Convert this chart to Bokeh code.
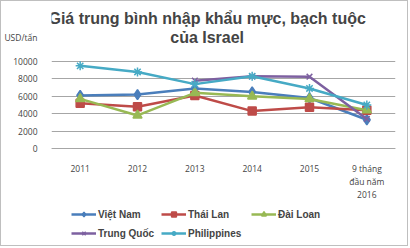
from bokeh.plotting import figure
from bokeh.models import Range1d, FixedTicker, Legend, LegendItem, Label
from bokeh.embed import file_html
from bokeh.resources import INLINE

years = ["2011", "2012", "2013", "2014", "2015", "9 tháng\nđầu năm\n2016"]
y_ticks = [0, 2000, 4000, 6000, 8000, 10000]
viet_nam = [6100, 6200, 6900, 6500, 5800, 3300]
thai_lan = [5200, 4800, 6100, 4300, 4750, 4400]
dai_loan = [5700, 3800, 6400, 6000, 5700, 4400]
trung_quoc = [None, None, 7800, 8300, 8250, 3400]
philippines = [9500, 8800, 7400, 8300, 6900, 5000]

title_1 = "Giá trung bình nhập khẩu mực, bạch tuộc"
title_2 = "của Israel"
unit = "USD/tấn"

series = [
    ("Việt Nam", viet_nam, "#4A7EBB", "diamond", 10),
    ("Thái Lan", thai_lan, "#BE4B48", "square", 8),
    ("Đài Loan", dai_loan, "#98B954", "triangle", 9),
    ("Trung Quốc", trung_quoc, "#7D60A0", "x", 8),
    ("Philippines", philippines, "#46AAC5", "asterisk", 9),
]

# layout (canvas pixels)
W, H = 408, 246
FRAME_LEFT, FRAME_RIGHT = 47, 394
FRAME_TOP, FRAME_BOTTOM = 2, 244
ZERO_PX, GRID_TOP_PX = 147, 60
per_px = y_ticks[-1] / (ZERO_PX - GRID_TOP_PX)
y_top = (ZERO_PX - FRAME_TOP) * per_px
y_bottom = -(FRAME_BOTTOM - ZERO_PX) * per_px

def data_y(px):
    return (ZERO_PX - px) * per_px

def data_x(px):
    return -0.5 + 6 * (px - FRAME_LEFT) / (FRAME_RIGHT - FRAME_LEFT)

p = figure(width=W, height=H, output_backend="svg", toolbar_location=None,
           x_range=Range1d(-0.5, 5.5), y_range=Range1d(y_bottom, y_top),
           min_border_left=FRAME_LEFT, min_border_right=W - FRAME_RIGHT,
           min_border_top=FRAME_TOP, min_border_bottom=H - FRAME_BOTTOM)
p.styles = {"border": "1px solid #BFBFBF"}
p.outline_line_color = None

xs = list(range(len(years)))
items = {}
for name, vals, color, marker, size in series:
    px = [x for x, v in zip(xs, vals) if v is not None]
    py = [v for v in vals if v is not None]
    r1 = p.line(px, py, line_color=color, line_width=2.5)
    r2 = p.scatter(px, py, marker=marker, size=size, fill_color=color,
                   line_color=color, line_width=1.5)
    items[name] = LegendItem(label=name, renderers=[r1, r2])

p.xaxis.fixed_location = 0
p.xaxis.ticker = FixedTicker(ticks=xs)
p.xaxis.major_label_overrides = {i: y for i, y in enumerate(years)}
p.xaxis.major_tick_line_color = None
p.xaxis.minor_tick_line_color = None
p.xaxis.axis_line_color = "#A6A6A6"
p.xaxis.major_label_text_font = "Open Sans"
p.xaxis.major_label_text_font_size = "8.5px"
p.xaxis.major_label_standoff = 8
p.xgrid.grid_line_color = None

unit_y = round(data_y(36))
p.yaxis.ticker = FixedTicker(ticks=y_ticks + [unit_y])
p.yaxis.major_label_overrides = {unit_y: unit}
p.yaxis.major_tick_line_color = None
p.yaxis.minor_tick_line_color = None
p.yaxis.axis_line_color = None
p.yaxis.major_label_text_font = "Open Sans"
p.yaxis.major_label_text_font_size = "8.5px"
p.yaxis.major_label_standoff = 8
p.ygrid.ticker = FixedTicker(ticks=y_ticks)
p.ygrid.grid_line_color = "#A6A6A6"

common = dict(orientation="horizontal", label_text_font="Liberation Sans",
              label_text_font_style="bold", label_text_font_size="10px",
              glyph_width=25, glyph_height=12, label_standoff=2, spacing=3,
              label_width=60, padding=0, margin=0, border_line_color=None,
              background_fill_alpha=0)
leg1 = Legend(items=[items[n] for n in ["Việt Nam", "Thái Lan", "Đài Loan"]],
              location=(20, 25), **common)
leg2 = Legend(items=[items[n] for n in ["Trung Quốc", "Philippines"]],
              location=(20, 6), **common)
p.add_layout(leg1)
p.add_layout(leg2)

tx = data_x(204)
p.add_layout(Label(x=tx, y=data_y(17), text=title_1, text_align="center",
                   text_baseline="middle", text_font="Liberation Sans",
                   text_font_size="16px", text_font_style="bold"))
p.add_layout(Label(x=tx, y=data_y(36), text=title_2, text_align="center",
                   text_baseline="middle", text_font="Liberation Sans",
                   text_font_size="16px", text_font_style="bold"))

open("out.html", "w").write(file_html(p, INLINE))
